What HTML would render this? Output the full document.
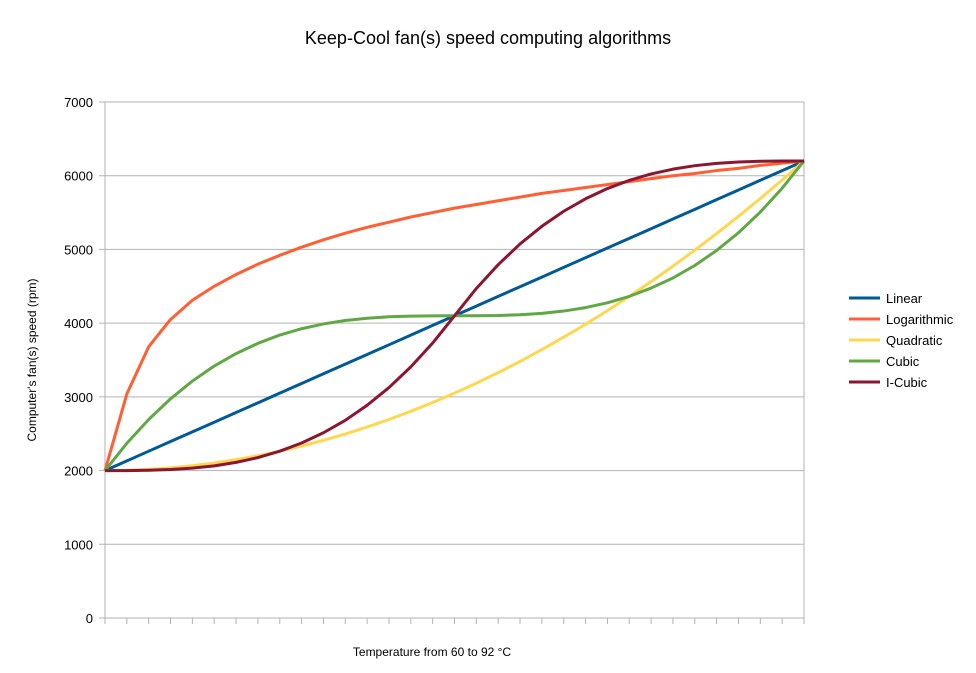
<!DOCTYPE html>
<html><head><meta charset="utf-8"><style>
html,body{margin:0;padding:0;background:#fff;width:976px;height:673px;overflow:hidden}
svg{font-family:"Liberation Sans",sans-serif}
</style></head><body>
<svg id="chart" width="976" height="673">
<text x="488" y="44" text-anchor="middle" font-size="18" fill="#000">Keep-Cool fan(s) speed computing algorithms</text>
<text transform="translate(36,360) rotate(-90)" text-anchor="middle" font-size="12" fill="#000">Computer's  fan(s)  speed  (rpm)</text>
<text x="432" y="656" text-anchor="middle" font-size="12" fill="#000">Temperature from 60 to 92 °C</text>
<g id="grid"></g><g id="series"></g><g id="legend"></g>
</svg>
<script>
const temps = Array.from({length:33},(_,i)=>60+i);
const yTicks = [0,1000,2000,3000,4000,5000,6000,7000];
const seriesNames = ["Linear","Logarithmic","Quadratic","Cubic","I-Cubic"];
const linear = [2000,2131,2263,2394,2525,2656,2788,2919,3050,3181,3313,3444,3575,3706,3838,3969,4100,4231,4363,4494,4625,4756,4888,5019,5150,5281,5413,5544,5675,5806,5938,6069,6200];
const logarithmic = [2000,3040,3680,4050,4310,4500,4660,4800,4920,5030,5130,5220,5300,5370,5440,5500,5560,5610,5660,5710,5760,5800,5840,5880,5920,5960,6000,6030,6070,6100,6140,6170,6200];
const quadratic = [2000,2004,2016,2037,2066,2103,2148,2201,2263,2332,2410,2496,2591,2693,2804,2923,3050,3185,3329,3481,3641,3809,3985,4170,4363,4563,4773,4990,5216,5449,5691,5942,6200];
const cubic = [2000,2370,2693,2974,3214,3418,3587,3726,3838,3924,3989,4036,4067,4086,4096,4099,4100,4101,4104,4114,4133,4164,4211,4276,4363,4476,4613,4782,4986,5226,5507,5830,6200];
const iCubic = [2000,2000,2004,2014,2033,2064,2111,2176,2263,2374,2513,2682,2886,3126,3407,3730,4100,4470,4793,5074,5314,5518,5687,5826,5937,6024,6089,6136,6167,6186,6196,6200,6200];
const colors = ["#005a96","#ff5f33","#ffd74f","#60a844","#8c1530"];
const allSeries = [linear,logarithmic,quadratic,cubic,iCubic];
const NS="http://www.w3.org/2000/svg";
const X0=105,X1=804,Y0=618,Y1=102;
const xs=i=>X0+(X1-X0)*i/(temps.length-1);
const ys=v=>Y0-(Y0-Y1)*v/7000;
function mk(t,a,p){const e=document.createElementNS(NS,t);for(const k in a)e.setAttribute(k,a[k]);p.appendChild(e);return e;}
const grid=document.getElementById('grid');
yTicks.forEach(v=>{
  const l=mk('line',{x1:X0-6,x2:X1,y1:ys(v),y2:ys(v),stroke:'#b3b3b3','stroke-width':1},grid);
  
  
  const t=mk('text',{x:93,y:ys(v)+5,'text-anchor':'end','font-size':13},grid);
  t.textContent=v;
  
  
});
const ax=mk('line',{x1:X0,x2:X0,y1:Y1,y2:Y0+6,stroke:'#b3b3b3','stroke-width':1},grid);


const rx=mk('line',{x1:X1,x2:X1,y1:Y1,y2:Y0,stroke:'#b3b3b3','stroke-width':1},grid);


temps.forEach((t,i)=>{
  const l=mk('line',{x1:xs(i),x2:xs(i),y1:Y0,y2:Y0+6,stroke:'#b3b3b3','stroke-width':1},grid);
  
  
});
const sg=document.getElementById('series');
allSeries.forEach((s,k)=>{
  const p=mk('polyline',{points:s.map((v,i)=>xs(i)+','+ys(v)).join(' '),fill:'none',stroke:colors[k],'stroke-width':3,'stroke-linejoin':'round'},sg);
  
  
});
const lg=document.getElementById('legend');
seriesNames.forEach((n,k)=>{
  const y=298+k*21;
  const l=mk('line',{x1:849,x2:880,y1:y,y2:y,stroke:colors[k],'stroke-width':3},lg);
  
  
  const t=mk('text',{x:886,y:y+5,'font-size':13},lg);
  t.textContent=n;
  
  
});
</script>
</body></html>
